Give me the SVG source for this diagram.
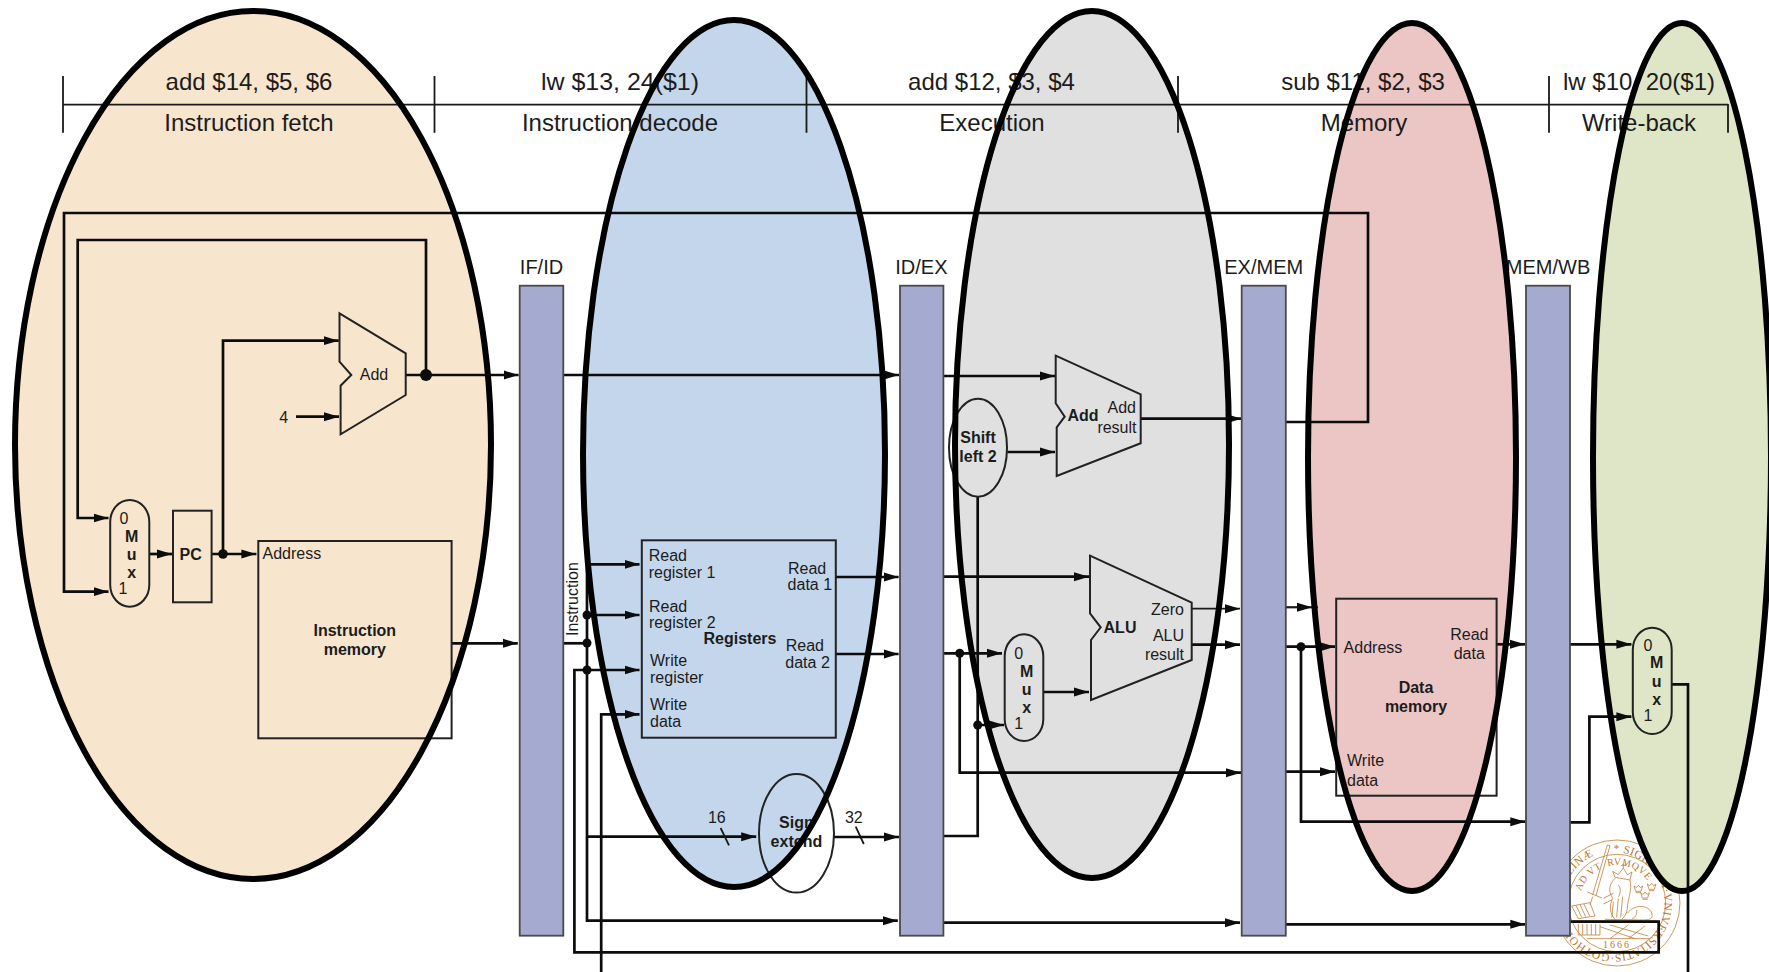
<svg xmlns="http://www.w3.org/2000/svg" width="1769" height="972" viewBox="0 0 1769 972">
<style>
text{font-family:"Liberation Sans",Arial,sans-serif;fill:#1c1c1c;font-size:16px}
.b{font-weight:bold}
.m{text-anchor:middle}
.r{text-anchor:end}
.h{font-size:24px;text-anchor:middle}
.pl{font-size:20px;text-anchor:middle}
.w{fill:none;stroke:#0c0c0c;stroke-width:2.7}
.t{fill:none;stroke:#1a1a1a;stroke-width:1.8}
.a{marker-end:url(#arrow)}
.box{fill:none;stroke:#222;stroke-width:2}
.pipe{fill:#a5aad0;stroke:#4a4a4a;stroke-width:1.8}
.ph{stroke:none}
.po{fill:none;stroke:#000;stroke-width:6}
.seal{fill:none;stroke:#bd8038;stroke-width:2.4}
text.st{fill:#b8772c;font-family:"Liberation Serif",serif}
</style>
<defs>
<marker id="arrow" markerUnits="userSpaceOnUse" markerWidth="16" markerHeight="10" refX="15" refY="5" orient="auto"><path d="M0,.5 L15,5 L0,9.5 Z" fill="#0c0c0c"/></marker>
<path id="crown" d="M-13,-10 L-6,-5 L0,-12 L6,-5 L13,-10 L8,6 L-8,6 Z M-8,10 L8,10"/>
<path id="sp1" d="M1613.4,852.1 A51,51 0 1 1 1613.3,852.1"/>
<path id="sp2" d="M1580.9,891.3 A38,38 0 0 1 1649.9,884"/>
</defs>
<rect width="1769" height="972" fill="#fff"/>

<g id="seal">
<g transform="translate(1550 830) scale(.3333)">
<circle class="seal" cx="201" cy="219" r="189"/>
<circle class="seal" cx="201" cy="219" r="146"/>
<path class="seal" d="M172,45 L128,195 M180,47 L138,197 M172,45 L180,47 M112,186 L156,204 M128,200 L120,225"/>
<path class="seal" d="M195,142 L188,124 L205,134 L220,114 L232,134 L246,126 L240,150 Z M220,114 L220,100 M212,106 L228,106"/>
<path class="seal" d="M195,145 C180,160 172,180 188,205 C178,225 178,250 195,268 M240,150 C248,180 232,210 232,235 C232,250 222,262 215,268 M205,165 C215,175 210,195 205,200 M205,205 L200,262 M218,200 L212,262 M190,215 L186,262 M160,205 L190,190 M160,222 L185,210"/>
<path class="seal" d="M232,250 C250,225 290,222 303,245 C312,262 305,270 280,270 L165,268 M260,240 C262,255 255,262 245,268 M60,272 L320,272"/>
<path class="seal" d="M65,228 L120,218 L135,258 L85,266 Z M78,226 L95,262 M90,224 L107,260 M102,222 L119,258"/>
<path class="seal" d="M85,282 L85,315 L150,315 L150,282 M98,282 L98,315 M111,282 L111,315 M124,282 L124,315 M137,282 L137,315"/>
<path class="seal" d="M150,290 L255,326 M180,285 L295,318 M235,285 L180,326 M285,288 L235,326 M110,326 L300,326"/>
<use href="#crown" class="seal" x="265" y="178"/>
<use href="#crown" class="seal" x="305" y="172"/>
<use href="#crown" class="seal" x="285" y="198"/>
</g>
<text class="st" font-size="11.5" letter-spacing=".35" style="font-size:11.5px"><textPath href="#sp1">* SIGILLVM·VNIVERSITATIS·GOTHORVM·CAROLINÆ</textPath></text>
<text class="st" letter-spacing=".4" style="font-size:10px"><textPath href="#sp2">AD VT<tspan dx="6">RVMQVE</tspan></textPath></text>
<text class="st" x="1617" y="948" letter-spacing="2" text-anchor="middle" style="font-size:10px">1666</text>
</g>

<g id="phase-fills">
<ellipse class="ph" cx="253" cy="445" rx="238" ry="434" fill="#f8e5ce"/>
<ellipse class="ph" cx="734" cy="453.5" rx="151" ry="433.5" fill="#c3d6eb"/>
<ellipse class="ph" cx="1092" cy="444.5" rx="137" ry="433.5" fill="#e0e0e0"/>
<ellipse class="ph" cx="1412" cy="457" rx="104" ry="434" fill="#ecc5c5"/>
<ellipse class="ph" cx="1682" cy="457" rx="89" ry="434" fill="#dee6c7"/>
</g>

<g id="stage-header">
<path class="t" d="M63,104.6 H1728 M63,76 V132.7 M434.5,76 V132.7 M806.5,76 V132.7 M1178,76 V132.7 M1549,76 V132.7 M1728,104 V132.7"/>
<text class="h" x="249" y="89.5">add $14, $5, $6</text>
<text class="h" x="620" y="89.5" textLength="158" lengthAdjust="spacingAndGlyphs">lw $13, 24($1)</text>
<text class="h" x="991.5" y="89.5">add $12, $3, $4</text>
<text class="h" x="1363" y="89.5">sub $11, $2, $3</text>
<text class="h" x="1639" y="89.5" textLength="152" lengthAdjust="spacingAndGlyphs">lw $10, 20($1)</text>
<text class="h" x="249" y="130.5">Instruction fetch</text>
<text class="h" x="620" y="130.5">Instruction decode</text>
<text class="h" x="992" y="130.5">Execution</text>
<text class="h" x="1364" y="130.5">Memory</text>
<text class="h" x="1639" y="130.5">Write-back</text>
</g>

<g id="connectors">
<path class="w a" d="M1286,422 H1368 V213 H64 V591.7 H108.5"/>
<path class="w a" d="M426,375 V240 H77.7 V518 H108.5"/>
<path class="w a" d="M223,554 V340.7 H338.7"/>
<path class="w a" d="M149.3,554 H172"/>
<path class="w a" d="M211.6,554 H256.4"/>
<path class="w a" d="M296,416.7 H339"/>
<path class="w a" d="M405.7,375 H518.6"/>
<path class="w a" d="M451.6,643.3 H517.8"/>
<path class="w a" d="M563.3,375 H899"/>
<path class="w" d="M563.3,643.3 H587"/>
<path class="w a" d="M587,564.3 H639.5"/>
<path class="w a" d="M587,615 H639.5"/>
<path class="w a" d="M587,836.7 H756.2"/>
<path class="w a" d="M587,564.3 V920.7 H897.8"/>
<path class="w a" d="M1570,921.7 H1658.7 V952.3 H574.4 V670 H639.5"/>
<path class="w a" d="M601.2,972 V714.3 H639.5"/>
<path class="t" d="M720.6,828 L729,845.3 M855.7,826.7 L863.8,844"/>
<path class="w a" d="M834,837 H899"/>
<path class="w a" d="M835.8,577 H898.6"/>
<path class="w a" d="M835.8,654 H898.6"/>
<path class="w a" d="M943.4,376 H1055"/>
<path class="w a" d="M943.4,576.7 H1089"/>
<path class="w a" d="M1007.3,452 H1055"/>
<path class="w a" d="M1140.7,418.7 H1241.7"/>
<path class="w a" d="M943.4,836 H977.7 V725 H1004"/>
<path class="w" d="M977.7,725 V496.7"/>
<path class="w a" d="M943.4,653.3 H1002"/>
<path class="w a" d="M959.7,653.3 V772.7 H1241"/>
<path class="w a" d="M1043.3,692 H1089"/>
<path class="t a" d="M1191.7,608.7 H1240"/>
<path class="w a" d="M1191.7,644.7 H1240"/>
<path class="w a" d="M943.4,922.7 H1240"/>
<path class="t" d="M1286,607.3 H1318"/>
<path class="t a" d="M1286,607.3 H1312"/>
<path class="w a" d="M1286,646.7 H1335"/>
<path class="w a" d="M1301,646.7 V821.7 H1525.3"/>
<path class="w a" d="M1286,771.7 H1335"/>
<path class="w a" d="M1286,924.3 H1525.3"/>
<path class="w a" d="M1496.6,644.3 H1525"/>
<path class="w a" d="M1570,644.3 H1631.4"/>
<path class="w a" d="M1570,822.3 H1589.4 V716.7 H1631.4"/>
<path class="w" d="M1671.7,684.3 H1688 V972"/>
<g id="junctions" fill="#0c0c0c">
<circle cx="426" cy="375" r="6"/>
<circle cx="223" cy="554" r="4.8"/>
<circle cx="587" cy="615" r="4.5"/>
<circle cx="587" cy="643" r="4.5"/>
<circle cx="587" cy="670" r="4.5"/>
<circle cx="959.7" cy="653.3" r="4.5"/>
<circle cx="977.7" cy="725" r="4.5"/>
<circle cx="1301" cy="646.7" r="4.5"/>
</g>
</g>

<g id="if-id"><rect class="pipe" x="519.7" y="285.7" width="43.6" height="650"/><text class="pl" x="541.5" y="274">IF/ID</text></g>
<g id="id-ex"><rect class="pipe" x="900" y="285.7" width="43.4" height="650"/><text class="pl" x="921.4" y="274">ID/EX</text></g>
<g id="ex-mem"><rect class="pipe" x="1241.7" y="285.7" width="44.1" height="650"/><text class="pl" x="1263.7" y="274">EX/MEM</text></g>
<g id="mem-wb"><rect class="pipe" x="1526" y="285.7" width="44" height="650"/><text class="pl" x="1548" y="274">MEM/WB</text></g>

<g id="pc-adder"><path class="box" d="M339.5,313.3 L405.7,353.3 V395 L340.6,434.3 V385.7 L351.3,375 L339.5,361.7 Z"/><text class="m" x="374" y="380">Add</text></g>
<text id="const-4" class="m" x="283.6" y="422.7">4</text>
<g id="pc-mux"><rect class="box" x="110.2" y="500" width="39.1" height="106.7" rx="19.5" ry="22"/><text class="m" x="124" y="524">0</text><text class="m b" x="131.6" y="542">M</text><text class="m b" x="131.6" y="560">u</text><text class="m b" x="131.6" y="578">x</text><text class="m" x="123" y="594">1</text></g>
<g id="pc"><rect class="box" x="173" y="510.7" width="38.6" height="91.6"/><text class="m b" x="190.6" y="560">PC</text></g>
<g id="instruction-memory"><rect class="box" x="258.3" y="541" width="193.3" height="197.3"/><text x="262.5" y="558.7">Address</text><text class="m b" x="354.8" y="635.7">Instruction</text><text class="m b" x="354.8" y="654.7">memory</text></g>
<text id="instruction-label" transform="translate(578 636) rotate(-90)">Instruction</text>
<g id="registers"><rect class="box" x="641.8" y="540.3" width="194" height="197.4"/>
<text x="648.7" y="561">Read</text><text x="648.7" y="577.7">register 1</text>
<text x="649" y="611.7">Read</text><text x="649" y="628.3">register 2</text>
<text x="650" y="666">Write</text><text x="650" y="683">register</text>
<text x="650" y="710">Write</text><text x="650" y="726.7">data</text>
<text class="m b" x="740" y="644">Registers</text>
<text x="788" y="573.7">Read</text><text x="787.6" y="590.3">data 1</text>
<text x="785.7" y="651">Read</text><text x="785.3" y="668">data 2</text></g>
<g id="sign-extend"><ellipse class="box" cx="796.5" cy="833.3" rx="37.5" ry="59.3"/><text class="m b" x="796.4" y="828">Sign</text><text class="m b" x="796.4" y="847">extend</text></g>
<text id="bits-16" class="m" x="716.8" y="823.3">16</text>
<text id="bits-32" class="m" x="853.8" y="823.3">32</text>
<g id="shift-left-2"><ellipse class="box" cx="978" cy="447.7" rx="29" ry="49"/><text class="m b" x="978" y="442.7">Shift</text><text class="m b" x="978" y="462">left 2</text></g>
<g id="branch-adder"><path class="box" d="M1055.7,355.7 L1140.7,394.3 V443.3 L1056.7,476 V427.3 L1064.7,416.7 L1055.7,403.3 Z"/><text class="m b" x="1083" y="421.3">Add</text><text class="r" x="1136" y="413.3">Add</text><text class="r" x="1136.5" y="432.7">result</text></g>
<g id="alu-mux"><rect class="box" x="1004.7" y="634.3" width="38.6" height="106.7" rx="19.3" ry="22"/><text class="m" x="1018.7" y="659.3">0</text><text class="m b" x="1026.7" y="677.3">M</text><text class="m b" x="1026.7" y="695.3">u</text><text class="m b" x="1026.7" y="713.3">x</text><text class="m" x="1018.7" y="729">1</text></g>
<g id="alu"><path class="box" d="M1090,555.7 L1191.7,602.7 V660 L1091,700 V640 L1100.7,627.3 L1090,613.3 Z"/><text class="m b" x="1120" y="633.3">ALU</text><text class="r" x="1184" y="614.7">Zero</text><text class="r" x="1184" y="641">ALU</text><text class="r" x="1184" y="660">result</text></g>
<g id="data-memory"><rect class="box" x="1336.2" y="598.7" width="160.4" height="197"/><text x="1343.6" y="653.3">Address</text><text class="m" x="1469.3" y="640">Read</text><text class="m" x="1469.3" y="659.3">data</text><text class="m b" x="1416" y="692.7">Data</text><text class="m b" x="1416" y="711.7">memory</text><text x="1347" y="766">Write</text><text x="1347" y="785.7">data</text></g>
<g id="wb-mux"><rect class="box" x="1632.8" y="627.7" width="38.9" height="106.3" rx="19.4" ry="22"/><text class="m" x="1648" y="650.7">0</text><text class="m b" x="1656.6" y="668.3">M</text><text class="m b" x="1656.6" y="686.7">u</text><text class="m b" x="1656.6" y="705">x</text><text class="m" x="1648" y="720.7">1</text></g>

<g id="phase-outlines">
<ellipse class="po" cx="253" cy="445" rx="238" ry="434"/>
<ellipse class="po" cx="734" cy="453.5" rx="151" ry="433.5"/>
<ellipse class="po" cx="1092" cy="444.5" rx="137" ry="433.5"/>
<ellipse class="po" cx="1412" cy="457" rx="104" ry="434"/>
<ellipse class="po" cx="1682" cy="457" rx="89" ry="434"/>
</g>
</svg>
